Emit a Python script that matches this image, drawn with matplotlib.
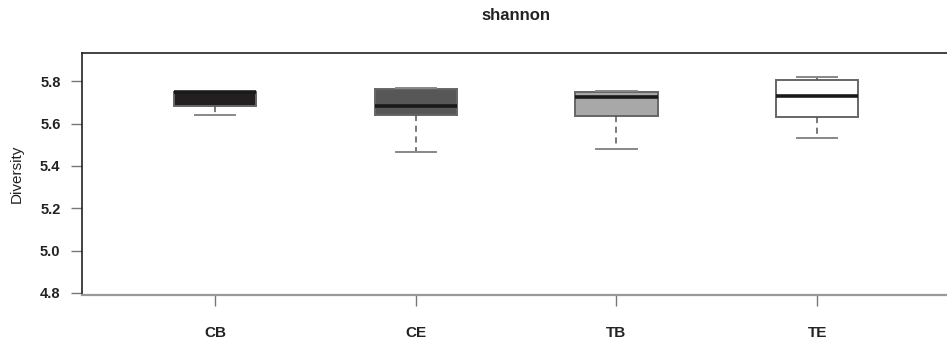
import matplotlib
matplotlib.use("Agg")
import matplotlib.pyplot as plt

plt.rcParams['font.family'] = ['Liberation Sans', 'DejaVu Sans']

groups = ["CB", "CE", "TB", "TE"]
whisker_low = [5.641, 5.464, 5.479, 5.532]
q1 = [5.683, 5.641, 5.636, 5.632]
median = [5.748, 5.683, 5.724, 5.733]
q3 = [5.750, 5.764, 5.749, 5.805]
whisker_high = [5.750, 5.767, 5.753, 5.819]
fills = ["#231f20", "#575757", "#a8a8a8", "#ffffff"]
yticks = [4.8, 5.0, 5.2, 5.4, 5.6, 5.8]

stats = []
for name, lo, a, m, b, hi in zip(groups, whisker_low, q1, median, q3, whisker_high):
    stats.append(dict(label=name, whislo=lo, q1=a, med=m, q3=b, whishi=hi, fliers=[]))

fig = plt.figure(figsize=(9.47, 3.44), dpi=100)
ax = fig.add_axes([82 / 947, 1 - 295 / 344, (948 - 82) / 947, (295 - 53) / 344])

positions = list(range(1, len(groups) + 1))
bp = ax.bxp(stats, positions=positions, widths=0.41, capwidths=0.2, patch_artist=True,
            showfliers=False,
            boxprops=dict(edgecolor="#666666", linewidth=1.4),
            medianprops=dict(color="#1a1a1a", linewidth=2.6, solid_capstyle="butt"),
            whiskerprops=dict(color="#555555", linewidth=1.1, linestyle=(0, (4, 3))),
            capprops=dict(color="#888888", linewidth=1.4))
for patch, c in zip(bp["boxes"], fills):
    patch.set_facecolor(c)

ax.set_xlim(0.337, 4.652)
ax.set_ylim(4.79, 5.934)
ax.set_yticks(yticks)
ax.set_yticklabels([f"{v:.1f}" for v in yticks])
ax.set_xticks(positions)
ax.set_xticklabels(groups)

for lab in ax.get_yticklabels():
    lab.set_fontweight("bold")
    lab.set_fontsize(10.5)
    lab.set_color("#222222")
for lab in ax.get_xticklabels():
    lab.set_fontweight("bold")
    lab.set_fontsize(11)
    lab.set_color("#222222")

ax.tick_params(axis="y", length=8, width=1, color="#777777", pad=7.5)
ax.tick_params(axis="x", length=8, width=1, color="#777777", pad=14)

ax.spines["right"].set_visible(False)
ax.spines["left"].set_color("#222222")
ax.spines["top"].set_color("#222222")
ax.spines["bottom"].set_color("#999999")
ax.spines["bottom"].set_linewidth(1.6)
for s in ("left", "top"):
    ax.spines[s].set_linewidth(1.2)

ax.set_ylabel("Diversity", fontsize=11, color="#222222", labelpad=12)
fig.text(516 / 947, 1 - 16 / 344, "shannon", ha="center", va="center",
         fontsize=12, fontweight="bold", color="#222222")

fig.savefig("out.png", dpi=100)
